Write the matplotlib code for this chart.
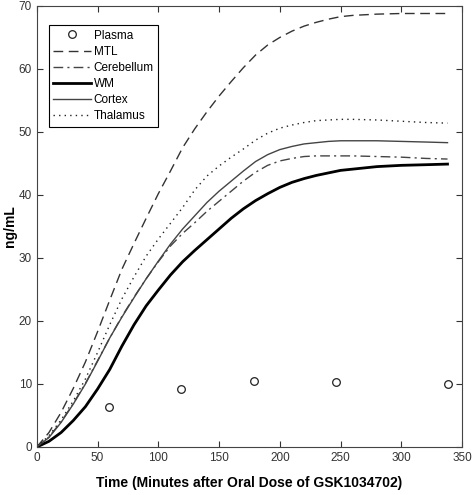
import numpy as np
import matplotlib
matplotlib.use("Agg")
import matplotlib.pyplot as plt

plt.rcParams["font.family"] = ["Liberation Sans", "DejaVu Sans"]

# ============================================================
# DATA
# ============================================================

plasma_t = [59, 119, 179, 246, 338]
plasma_v = [6.4, 9.2, 10.4, 10.3, 10.0]

t = [0, 10, 20, 30, 40, 50, 60, 70, 80, 90, 100, 110, 120, 130, 140, 150,
     160, 170, 180, 190, 200, 210, 220, 230, 240, 250, 260, 280, 300, 320, 338]

mtl = [0, 2.3, 5.5, 9.3, 13.5, 18.3, 23.3, 28.2, 32.3, 36.3, 40.2, 43.8, 47.5,
       50.5, 53.2, 55.7, 58.0, 60.2, 62.2, 63.8, 65.0, 66.0, 66.8, 67.4, 67.9,
       68.3, 68.5, 68.7, 68.8, 68.8, 68.8]
cerebellum = [0, 1.6, 4.0, 6.9, 10.1, 13.7, 17.3, 20.7, 23.8, 26.7, 29.4, 31.9,
              33.9, 35.6, 37.4, 39.0, 40.6, 42.2, 43.6, 44.7, 45.4, 45.8, 46.1,
              46.2, 46.2, 46.2, 46.2, 46.1, 46.0, 45.8, 45.7]
wm = [0, 0.9, 2.3, 4.2, 6.4, 9.2, 12.3, 16.0, 19.4, 22.4, 24.9, 27.3, 29.4,
      31.2, 32.9, 34.6, 36.3, 37.8, 39.1, 40.2, 41.2, 42.0, 42.6, 43.1, 43.5,
      43.9, 44.1, 44.5, 44.7, 44.8, 44.9]
cortex = [0, 1.5, 3.9, 6.8, 10.0, 13.6, 17.3, 20.6, 23.7, 26.7, 29.5, 32.2,
          34.6, 36.7, 38.8, 40.6, 42.2, 43.8, 45.3, 46.4, 47.2, 47.7, 48.1,
          48.3, 48.5, 48.6, 48.6, 48.6, 48.5, 48.4, 48.3]
thalamus = [0, 1.8, 4.3, 7.3, 10.8, 15.0, 19.4, 23.5, 27.0, 30.3, 33.0, 35.5,
            38.0, 40.8, 43.0, 44.6, 46.0, 47.3, 48.7, 49.8, 50.6, 51.1, 51.5,
            51.8, 51.9, 52.0, 52.0, 51.9, 51.7, 51.5, 51.4]

# ============================================================
# PLOT
# ============================================================

fig = plt.figure(figsize=(4.72, 4.95), dpi=100)
ax = fig.add_axes([0.078, 0.097, 0.901, 0.891])

ax.plot(plasma_t, plasma_v, "o", mfc="white", mec="#222222", ms=5.5,
        mew=0.9, label="Plasma")
ax.plot(t, mtl, color="#333333", lw=1.0, ls=(0, (7, 4)), label="MTL")
ax.plot(t, cerebellum, color="#444444", lw=1.0, ls=(0, (7, 3, 1.5, 3)),
        label="Cerebellum")
ax.plot(t, wm, color="black", lw=2.0, label="WM")
ax.plot(t, cortex, color="#444444", lw=1.0, label="Cortex")
ax.plot(t, thalamus, color="#222222", lw=1.0, ls=(0, (1, 3)), label="Thalamus")

ax.set_xlim(0, 350)
ax.set_ylim(0, 70)
ax.set_xticks(np.arange(0, 351, 50))
ax.set_yticks(np.arange(0, 71, 10))
ax.tick_params(direction="in", top=True, right=True, length=4,
               labelsize=8.5, colors="#333333", width=0.8)
for s in ax.spines.values():
    s.set_color("#444444")
    s.set_linewidth(0.8)

ax.set_xlabel("Time (Minutes after Oral Dose of GSK1034702)",
              fontsize=10, fontweight="bold", labelpad=9)
ax.set_ylabel("ng/mL", fontsize=10, fontweight="bold", labelpad=1)

leg = ax.legend(loc="upper left", bbox_to_anchor=(0.028, 0.957),
                borderaxespad=0, fancybox=False, framealpha=1,
                edgecolor="black", fontsize=8.5, handlelength=3.2,
                labelspacing=0.35, handletextpad=0.2, borderpad=0.4)
leg.get_frame().set_linewidth(0.8)

fig.savefig("out.png", dpi=100)
